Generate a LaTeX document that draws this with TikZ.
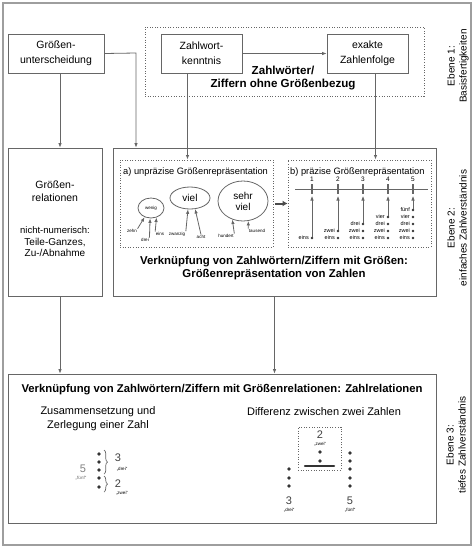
\documentclass[tikz,border=0pt]{standalone}
\usepackage{fontspec}
\setmainfont{Liberation Sans}
\usetikzlibrary{positioning,arrows.meta,shapes.geometric,decorations.pathreplacing}
\definecolor{linegray}{gray}{0.4}
\definecolor{framegray}{gray}{0.62}
\tikzset{
myframe/.style={draw=framegray,line width=2.5pt},
mybox/.style={
  draw=linegray,
  line width=0.8pt,
  align=center,
  inner sep=0pt,
  font=\fontsize{10.5}{15}\selectfont
  },
mydotbox/.style={
  draw=linegray,
  line width=0.9pt,
  dash pattern=on 1pt off 1.6pt,
  inner sep=0pt
  },
mybold/.style={align=center,inner sep=0pt,font=\bfseries\fontsize{11.4}{13}\selectfont},
mytext/.style={align=center,inner sep=0pt,font=\fontsize{11}{13.3}\selectfont},
mytiny/.style={inner sep=0.5pt,font=\fontsize{4.5}{5}\selectfont},
mynum/.style={inner sep=0pt,text=black!75,font=\fontsize{11}{12}\selectfont},
myblob/.style={ellipse,draw=linegray,line width=0.8pt,inner sep=0pt},
mydot/.style={circle,fill=black!80,inner sep=0pt,minimum size=2.6pt},
myline/.style={draw=linegray,line width=0.8pt},
myarrow/.style={myline,->}
}

\begin{document}
\begin{tikzpicture}[>={Latex[length=4.5pt,width=3.5pt]},x=1pt,y=-1pt]
\useasboundingbox (0,0) rectangle (474,557);
\draw[myframe] (3,3) rectangle (471,545);

% Ebene 1
\node[mybox,minimum width=96pt,minimum height=39pt] (gu) at (56,53.5) {Größen-\\unterscheidung};
\node[mybox,minimum width=81pt,minimum height=39pt] (zk) at (201.5,53.5) {Zahlwort-\\kenntnis};
\node[mybox,minimum width=81pt,minimum height=39pt] (ez) at (367.5,53.5) {exakte\\Zahlenfolge};
\node[mydotbox,minimum width=279pt,minimum height=69pt] (zb) at (284.5,61.5) {};
\node[mybold,font=\bfseries\fontsize{11.6}{13}\selectfont] (zbtext) at (283,78.5) {Zahlwörter/\\Ziffern ohne Größenbezug};

% Ebene 2
\node[mybox,minimum width=94pt,minimum height=148pt] (gr) at (55,222) {};
\node[align=center,inner sep=0pt,font=\fontsize{10.5}{12.5}\selectfont] (grtop) at (55,191) {Größen-\\relationen};
\node[align=center,inner sep=0pt,font=\fontsize{10}{11.5}\selectfont] (grbot) at (55,242) {{\fontsize{9.5}{11.5}\selectfont nicht-numerisch:}\\Teile-Ganzes,\\Zu-/Abnahme};

\node[mybox,minimum width=323pt,minimum height=148pt] (vg) at (274.5,222) {};
\node[mydotbox,minimum width=153pt,minimum height=87pt] (pa) at (196.5,203.5) {};
\node[mydotbox,minimum width=143pt,minimum height=87pt] (pb) at (359.5,203.5) {};
\node[anchor=west,inner sep=0pt,font=\fontsize{9.3}{11}\selectfont] (patitle) at (123,172) {a) unpräzise Größenrepräsentation};
\node[anchor=west,inner sep=0pt,font=\fontsize{9.3}{11}\selectfont] (pbtitle) at (290,172) {b) präzise Größenrepräsentation};
\node[mybold] (vgtext) at (274,268.5) {Verknüpfung von Zahlwörtern/Ziffern mit Größen:\\Größenrepräsentation von Zahlen};

% unpraezise
\node[myblob,minimum width=26pt,minimum height=20pt,font=\fontsize{4.5}{5}\selectfont] (wenig) at (151,208) {wenig};
\node[myblob,minimum width=40pt,minimum height=22pt,font=\fontsize{10}{11}\selectfont] (viel) at (190,198) {viel};
\node[myblob,minimum width=50pt,minimum height=40pt,align=center,font=\fontsize{10}{11}\selectfont] (sviel) at (243,201) {sehr\\viel};

\node[mytiny] (zehn) at (132,231) {zehn};
\node[mytiny] (drei) at (145,240) {drei};
\node[mytiny] (eins) at (160,234) {eins};
\node[mytiny] (zwanzig) at (177,234) {zwanzig};
\node[mytiny] (acht) at (201,237) {acht};
\node[mytiny] (hundert) at (226,236) {hundert};
\node[mytiny] (tausend) at (257,231) {tausend};

\begin{scope}[line width=0.6pt]
\draw[myarrow] (zehn.north east) -- (wenig.235);
\draw[myarrow] (drei.north east) -- (wenig.265);
\draw[myarrow] (eins.north west) -- (wenig.300);
\draw[myarrow] (zwanzig.north east) -- (viel.260);
\draw[myarrow] (acht.north) -- (viel.295);
\draw[myarrow] (hundert.north east) -- (sviel.240);
\draw[myarrow] (tausend.north west) -- (sviel.285);
\end{scope}

% praezise
\coordinate (zs0) at (295,189);
\coordinate (zs1) at (428,189);
\draw[myline] (zs0) -- (zs1);
\foreach \x [count=\k] in {312,338,363,388,413} {
  \node[inner sep=0pt,font=\fontsize{6.5}{7}\selectfont] (nr\k) at (\x,179.5) {\k};
  \draw[linegray,line width=1.2pt] (\x,184) -- (\x,194);
  \coordinate (t\k) at (\x,196);
  \foreach \w [count=\r] in {eins,zwei,drei,vier,fünf} {
    \ifnum\r>\k\relax\else
      \node[mydot] (d\k-\r) at (\x,245-7*\r) {};
      \node[mytiny,anchor=east,font=\fontsize{5.5}{6}\selectfont] (w\k-\r) at (\x-2.5,245-7*\r) {\w};
    \fi
  }
  \draw[myarrow,line width=0.6pt] (d\k-\k) -- (t\k);
}

\draw[->,draw=black!70,line width=2pt,>={Latex[length=5pt,width=6pt]}] ([xshift=2pt]pa.east) -- (pb.west);

% Ebene 3
\node[mybox,minimum width=428pt,minimum height=149pt] (zr) at (222,448.5) {};
\node[mybold,font=\bfseries\fontsize{11.3}{12}\selectfont] (zrtitle) at (222,390) {Verknüpfung von Zahlwörtern/Ziffern mit Größenrelationen: Zahlrelationen};
\node[mytext] (zus) at (98,418.5) {Zusammensetzung und\\Zerlegung einer Zahl};
\node[mytext] (diftext) at (324,412) {Differenz zwischen zwei Zahlen};

% Zerlegung
\foreach \y in {454,462,470,478,487} \fill[black!80] (99,\y) circle (1.8pt);
\draw[linegray,line width=0.7pt,decorate,decoration={brace,amplitude=3.5pt}] (104,450) -- (104,474);
\draw[linegray,line width=0.7pt,decorate,decoration={brace,amplitude=3.5pt}] (104,476) -- (104,492);
\node[mynum] (z3) at (118,458) {3};
\node[mytiny] (z3w) at (122,469) {„drei“};
\node[mynum] (z2) at (118,483.5) {2};
\node[mytiny] (z2w) at (122,493) {„zwei“};
\node[mynum,text=black!50] (z5) at (83,469) {5};
\node[mytiny,text=black!60] (z5w) at (81,478) {„fünf“};

% Differenz
\node[mydotbox,minimum width=43pt,minimum height=43pt] (diff) at (319.5,448.5) {};
\node[mynum] (d2) at (320,435) {2};
\node[mytiny] (d2w) at (320,444) {„zwei“};
\foreach \y in {452,461} \fill[black!80] (320,\y) circle (1.8pt);
\draw[black!80,line width=2.5pt,line cap=round] (305,466) -- (334,466);
\foreach \y in {469,478,486} \fill[black!80] (289,\y) circle (1.8pt);
\foreach \y in {453,461,469,478,486} \fill[black!80] (350,\y) circle (1.8pt);
\node[mynum] (d3) at (289,501) {3};
\node[mytiny] (d3w) at (289,510) {„drei“};
\node[mynum] (d5) at (350,501) {5};
\node[mytiny] (d5w) at (350,510) {„fünf“};

% Ebenen
\node[rotate=90,align=center,font=\fontsize{10}{12}\selectfont] (eb1) at (458,66) {Ebene 1:\\Basisfertigkeiten};
\node[rotate=90,align=center,font=\fontsize{10}{12}\selectfont] (eb2) at (457,228) {Ebene 2:\\einfaches Zahlverständnis};
\node[rotate=90,align=center,font=\fontsize{10}{12}\selectfont] (eb3) at (456,445) {Ebene 3:\\tiefes Zahlverständnis};

% Verbindungen
\coordinate (knick) at (136,53);
\draw[myarrow] (gu.east) -- (knick) -- (knick |- vg.north);
\draw[myarrow] ([xshift=4pt]gu.south) -- ([xshift=4pt]gu.south |- gr.north);
\draw[myarrow] (zk.east) -- (ez.west);
\draw[myarrow] ([xshift=-14pt]zk.south) -- ([xshift=-14pt]zk.south |- pa.north);
\draw[myarrow] ([xshift=8pt]ez.south) -- ([xshift=8pt]ez.south |- pb.north);
\draw[myarrow] ([xshift=5pt]gr.south) -- ([xshift=5pt]gr.south |- zr.north);
\draw[myarrow] (vg.south) -- (vg.south |- zr.north);
\end{tikzpicture}
\end{document}
